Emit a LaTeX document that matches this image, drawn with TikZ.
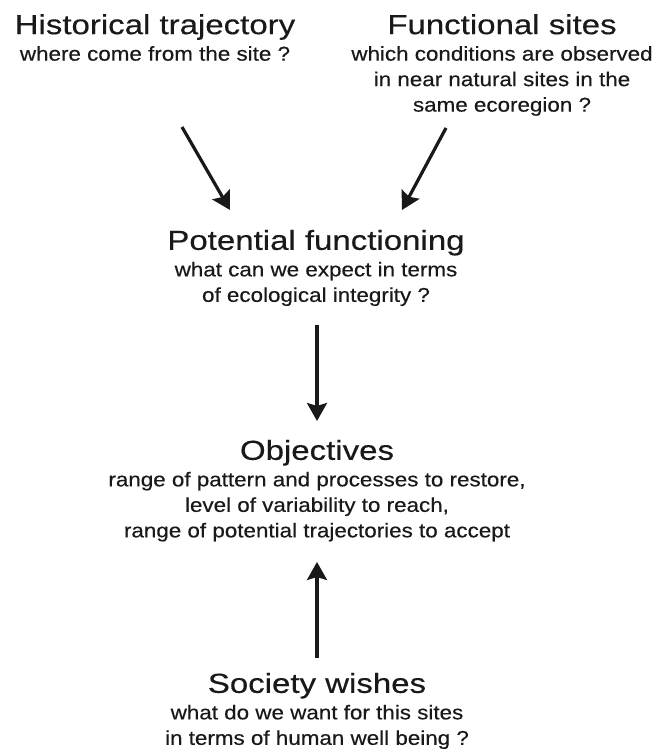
\documentclass[tikz,border=0pt]{standalone}
\usepackage{fontspec}
\setmainfont{Liberation Sans}[FakeStretch=1.12, FakeBold=0.4]
\newfontfamily\ttlfont{Liberation Sans}[FakeStretch=1.2, FakeBold=0.4]
\usetikzlibrary{arrows.meta, positioning}

\begin{document}
\begin{tikzpicture}[x=1pt, y=-1pt, >={Stealth[length=18pt, width=20pt, inset=3pt]},
    block/.style={align=center, inner sep=0pt, anchor=north, text=black!90, font=\fontsize{20}{25.5}\selectfont},
    arr/.style={->, line width=3.2pt, draw=black!90}]
  \useasboundingbox (0,0) rectangle (654,752);
  \newcommand{\ttl}[1]{{\ttlfont\fontsize{27.5}{25.5}\selectfont #1}\\[1pt]}
  \node[block] (hist) at (155,14) {\ttl{Historical trajectory} where come from the site ?};
  \node[block] (func) at (502,14) {\ttl{Functional sites} which conditions are observed\\ in near natural sites in the\\ same ecoregion ?};
  \node[block] (pot) at (316,229.7) {\ttl{Potential functioning} what can we expect in terms\\ of ecological integrity ?};
  \node[block] (obj) at (317,439.7) {\ttl{Objectives} range of pattern and processes to restore,\\ level of variability to reach,\\ range of potential trajectories to accept};
  \node[block] (soc) at (317,672.7) {\ttl{Society wishes} what do we want for this sites\\ in terms of human well being ?};
  \path
    ([shift={(27,66)}]hist.south) edge[arr] ([shift={(-86,-19.7)}]pot.north)
    ([shift={(-56,12)}]func.south) edge[arr] ([shift={(86,-19.7)}]pot.north)
    ([shift={(1,19)}]pot.south) edge[arr] ([shift={(0,-18.7)}]obj.north)
    ([shift={(0,-14.7)}]soc.north) edge[arr] ([shift={(0,20.3)}]obj.south);
\end{tikzpicture}
\end{document}
